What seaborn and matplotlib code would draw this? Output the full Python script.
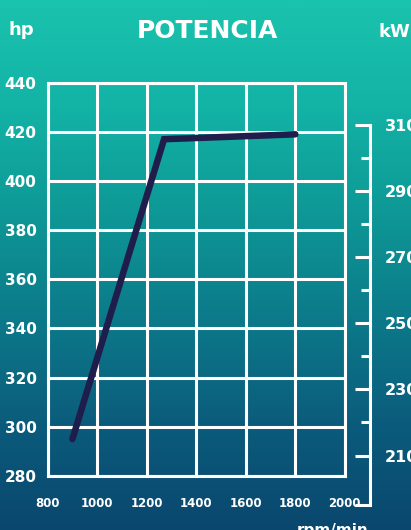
import numpy as np
import pandas as pd
import matplotlib
matplotlib.use("Agg")
import matplotlib.pyplot as plt
from matplotlib.colors import LinearSegmentedColormap
from matplotlib.ticker import FixedLocator, FixedFormatter
import seaborn as sns

# power curve
rpm = [900, 1270, 1800]
hp = [295, 417, 419]

# axis ticks
rpm_ticks = [800, 1000, 1200, 1400, 1600, 1800, 2000]
hp_ticks = [280, 300, 320, 340, 360, 380, 400, 420, 440]
kw_ticks = [210, 230, 250, 270, 290, 310]
kw_minor = [220, 240, 260, 280, 300]

df = pd.DataFrame({"rpm": rpm, "hp": hp})

sns.set_theme(style="white")
plt.rcParams["font.family"] = ["DejaVu Sans"]
plt.rcParams["font.weight"] = "bold"

fig = plt.figure(figsize=(4.11, 5.30), dpi=100)

# gradient background, teal on top to deep blue at the bottom
bg = fig.add_axes([0, 0, 1, 1], zorder=-10)
cmap = LinearSegmentedColormap.from_list(
    "bg", ["#1ac3ad", "#13b3a6", "#0e9896", "#0c7a8a", "#0b5c7c", "#0a476e"])
grad = np.linspace(0, 1, 256).reshape(-1, 1)
bg.imshow(grad, aspect="auto", cmap=cmap, extent=[0, 1, 0, 1])
bg.axis("off")

ax = fig.add_axes([0.116, 0.102, 0.723, 0.742])
ax.set_facecolor("none")
sns.lineplot(data=df, x="rpm", y="hp", ax=ax, color="#1f1d4c", linewidth=4.7,
             solid_capstyle="round", solid_joinstyle="miter", zorder=5)
ax.set_xlim(800, 2000)
ax.set_ylim(280, 440)
ax.set_xticks(rpm_ticks)
ax.set_yticks(hp_ticks)
ax.grid(True, color="white", linewidth=2.2)
for s in ax.spines.values():
    s.set_color("white")
    s.set_linewidth(2.2)
ax.tick_params(axis="x", length=0, pad=15, labelsize=8.5, colors="white")
ax.tick_params(axis="y", length=0, pad=8, labelsize=11, colors="white")
for lab in ax.get_xticklabels() + ax.get_yticklabels():
    lab.set_fontweight("bold")
ax.set_xlabel("")
ax.set_ylabel("")

# kW scale drawn as a bracket on the right
kx = fig.add_axes([0.80, 0.047, 0.10, 0.717])
kx.set_facecolor("none")
kx.set_ylim(195, 310)
kx.set_xticks([])
for name in ["left", "top", "bottom"]:
    kx.spines[name].set_visible(False)
kx.spines["right"].set_color("white")
kx.spines["right"].set_linewidth(2.2)
kx.yaxis.tick_right()
kx.yaxis.set_major_locator(FixedLocator([195] + kw_ticks))
kx.yaxis.set_major_formatter(FixedFormatter([""] + [str(v) for v in kw_ticks]))
kx.yaxis.set_minor_locator(FixedLocator(kw_minor))
kx.tick_params(axis="y", which="major", direction="in", length=11, width=2.2,
               color="white", pad=11, labelsize=11.5, labelcolor="white")
kx.tick_params(axis="y", which="minor", direction="in", length=6.5, width=2.2,
               color="white")
for lab in kx.get_yticklabels():
    lab.set_fontweight("bold")

fig.text(0.505, 0.942, "POTENCIA", ha="center", va="center", color="white",
         fontsize=18, fontweight="bold")
fig.text(0.052, 0.943, "hp", ha="center", va="center", color="white",
         fontsize=13, fontweight="bold")
fig.text(0.92, 0.94, "kW", ha="left", va="center", color="white",
         fontsize=13, fontweight="bold")
fig.text(0.81, 0.014, "rpm/min", ha="center", va="top", color="white",
         fontsize=11, fontweight="bold")

fig.savefig("out.png", dpi=100)
